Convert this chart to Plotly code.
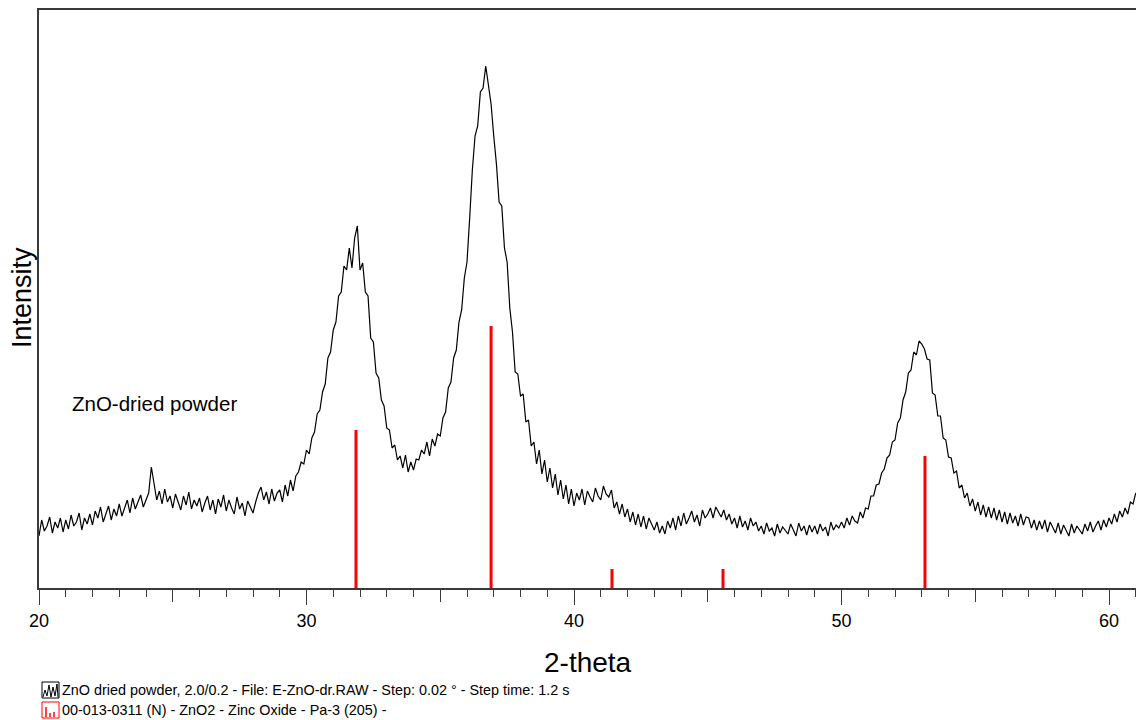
import plotly.graph_objects as go

# ---- data -------------------------------------------------------------
two_theta_start = 20.0
two_theta_step = 0.1
intensity = [
    52, 68, 57, 62, 71, 55, 66, 60, 70, 56,          # 20
    68, 59, 73, 62, 66, 75, 58, 70, 64, 74,          # 21
    63, 77, 70, 81, 66, 74, 82, 68, 79, 72,          # 22
    84, 72, 80, 88, 75, 90, 79, 86, 93, 81,          # 23
    89, 95, 121, 104, 88, 97, 84, 99, 86, 92,        # 24
    80, 94, 85, 78, 92, 83, 96, 79, 88, 82,          # 25
    90, 76, 85, 92, 78, 88, 74, 89, 81, 93,          # 26
    77, 88, 80, 74, 91, 79, 85, 72, 87, 80,          # 27
    75, 86, 95, 101, 88, 96, 84, 99, 87, 95,         # 28
    98, 86, 103, 92, 108, 97, 112, 116, 126, 124,    # 29
    138, 134, 150, 156, 174, 178, 196, 204, 230, 236,  # 30
    258, 266, 292, 296, 322, 318, 340, 320, 350, 362,  # 31
    318, 325, 296, 292, 250, 246, 215, 210, 188, 182,  # 32
    160, 158, 140, 143, 128, 132, 120, 133, 116, 126,  # 33
    118, 129, 128, 138, 134, 146, 132, 149, 142, 154,  # 34
    152, 170, 176, 200, 206, 230, 238, 266, 278, 310,  # 35
    326, 370, 418, 452, 462, 496, 500, 522, 502, 484,  # 36
    452, 424, 386, 382, 340, 326, 280, 256, 216, 214,  # 37
    192, 194, 166, 168, 142, 146, 124, 138, 114, 128,  # 38
    106, 120, 100, 114, 93, 108, 89, 103, 84, 99,    # 39
    82, 95, 88, 99, 83, 97, 91, 86, 100, 92,         # 40
    88, 102, 94, 91, 98, 80, 86, 74, 84, 71,         # 41
    79, 66, 76, 63, 74, 61, 72, 59, 70, 64,          # 42
    58, 66, 55, 62, 54, 67, 60, 70, 58, 72,          # 43
    62, 75, 64, 70, 77, 66, 73, 62, 78, 70,          # 44
    74, 80, 70, 81, 76, 71, 78, 68, 74, 64,          # 45
    70, 60, 72, 61, 67, 58, 70, 62, 66, 57,          # 46
    62, 54, 65, 57, 60, 52, 64, 55, 61, 58,          # 47
    54, 64, 58, 52, 65, 57, 62, 53, 63, 56,          # 48
    62, 54, 64, 57, 61, 52, 66, 58, 63, 60,          # 49
    66, 60, 70, 63, 72, 67, 65, 76, 70, 80,          # 50
    79, 92, 92, 103, 104, 115, 119, 130, 133, 146,   # 51
    148, 165, 170, 188, 196, 215, 218, 236, 233, 247,  # 52
    244, 239, 229, 228, 195, 193, 172, 172, 150, 148,  # 53
    131, 130, 115, 117, 100, 103, 90, 95, 82, 89,    # 54
    77, 86, 73, 83, 71, 81, 70, 80, 68, 78,          # 55
    66, 76, 64, 75, 65, 72, 62, 74, 63, 71,          # 56
    70, 60, 68, 58, 67, 59, 68, 56, 66, 60,          # 57
    55, 65, 54, 63, 58, 52, 64, 55, 62, 58,          # 58
    54, 64, 57, 66, 56, 62, 67, 58, 68, 61,          # 59
    70, 64, 74, 66, 77, 71, 80, 74, 86, 84,          # 60
    95,                                              # 61.0
]
two_theta = [round(two_theta_start + two_theta_step * i, 2) for i in range(len(intensity))]

ref_positions = [31.85, 36.90, 41.42, 45.57, 53.12]
ref_heights = [158, 262, 19, 19, 132]

x_major_ticks = [20, 30, 40, 50, 60]
x_mid_ticks = [25, 35, 45, 55]

legend_line1 = "ZnO dried powder, 2.0/0.2 - File: E-ZnO-dr.RAW - Step: 0.02 ° - Step time: 1.2 s"
legend_line2 = "00-013-0311 (N) - ZnO2 - Zinc Oxide - Pa-3 (205) -"

# ---- layout geometry --------------------------------------------------
W, H = 1136, 720
L, R, T, B = 39, 0, 10, 132
PW, PH = W - L - R, H - T - B
X_RANGE = [20, 20 + PW / 26.75]
Y_RANGE = [0, 578]
FONT = "Liberation Sans, Arial, sans-serif"
AX = "#3a3a3a"


def px(x):
    return (x - L) / PW


def py(y):
    return (H - B - y) / PH


fig = go.Figure()

# reference sticks
sx, sy = [], []
for p, h in zip(ref_positions, ref_heights):
    sx += [p, p, None]
    sy += [0, h, None]
fig.add_trace(go.Scatter(x=sx, y=sy, mode="lines",
                         line=dict(color="#ff0000", width=3),
                         hoverinfo="skip", showlegend=False))

# measured pattern
fig.add_trace(go.Scatter(x=two_theta, y=intensity, mode="lines",
                         line=dict(color="#000000", width=1.2),
                         showlegend=False))

# invisible trace on the overlay axis so it renders
fig.add_trace(go.Scatter(x=[20], y=[0], xaxis="x2", mode="markers",
                         marker=dict(opacity=0), hoverinfo="skip",
                         showlegend=False))

fig.update_layout(
    width=W, height=H,
    margin=dict(l=L, r=R, t=T, b=B, pad=0),
    plot_bgcolor="white", paper_bgcolor="white",
    font=dict(family=FONT, color="black"),
    xaxis=dict(
        range=X_RANGE, showgrid=False, zeroline=False,
        showline=True, linecolor=AX, linewidth=1.5, mirror=True,
        tickmode="array", tickvals=x_mid_ticks, ticktext=[""] * len(x_mid_ticks),
        ticks="outside", ticklen=12, tickwidth=1.2, tickcolor=AX,
        minor=dict(dtick=1, tick0=20, ticks="outside", ticklen=7,
                   tickwidth=1.2, tickcolor=AX, showgrid=False),
    ),
    xaxis2=dict(
        range=X_RANGE, overlaying="x", side="bottom", anchor="y",
        showgrid=False, zeroline=False, showline=False,
        tickmode="array", tickvals=x_major_ticks,
        ticktext=[str(v) for v in x_major_ticks],
        ticks="outside", ticklen=16, tickwidth=1.4, tickcolor=AX,
        tickfont=dict(size=18, family=FONT, color="black"),
    ),
    yaxis=dict(
        range=Y_RANGE, showgrid=False, zeroline=False,
        showline=True, linecolor=AX, linewidth=1.5,
        showticklabels=False, ticks="",
    ),
)

ann = [
    dict(text="2-theta", x=px(588), y=py(662), font=dict(size=28)),
    dict(text="Intensity", x=px(22), y=py(298), textangle=-90, font=dict(size=27)),
    dict(text="ZnO-dried powder", x=px(70), y=py(403), xanchor="left", font=dict(size=20.5)),
    dict(text=legend_line1, x=px(60), y=py(690), xanchor="left", font=dict(size=14.4)),
    dict(text=legend_line2, x=px(60), y=py(710), xanchor="left", font=dict(size=14.4)),
]
for a in ann:
    a.setdefault("xanchor", "center")
    fig.add_annotation(xref="paper", yref="paper", showarrow=False,
                       yanchor="middle", **a)

# legend icons
def rect(x0, y0, x1, y1, color):
    fig.add_shape(type="rect", xref="paper", yref="paper",
                  x0=px(x0), x1=px(x1), y0=py(y1), y1=py(y0),
                  line=dict(color=color, width=1), fillcolor="rgba(0,0,0,0)")


def path(points, color, width=1):
    d = "M " + " L ".join(f"{px(a):.5f},{py(b):.5f}" for a, b in points)
    fig.add_shape(type="path", xref="paper", yref="paper", path=d,
                  line=dict(color=color, width=width))


rect(42, 682, 59, 698, "black")
path([(43, 697), (45, 690), (47, 696), (49, 685), (51, 697), (53, 687),
      (55, 696), (57, 684), (58, 697)], "black")
rect(42, 702, 59, 718, "#ff0000")
for bx, top in [(46, 707), (50, 713), (54, 712)]:
    path([(bx, 717), (bx, top)], "#ff0000", 1.5)

fig.write_html("out.html")
